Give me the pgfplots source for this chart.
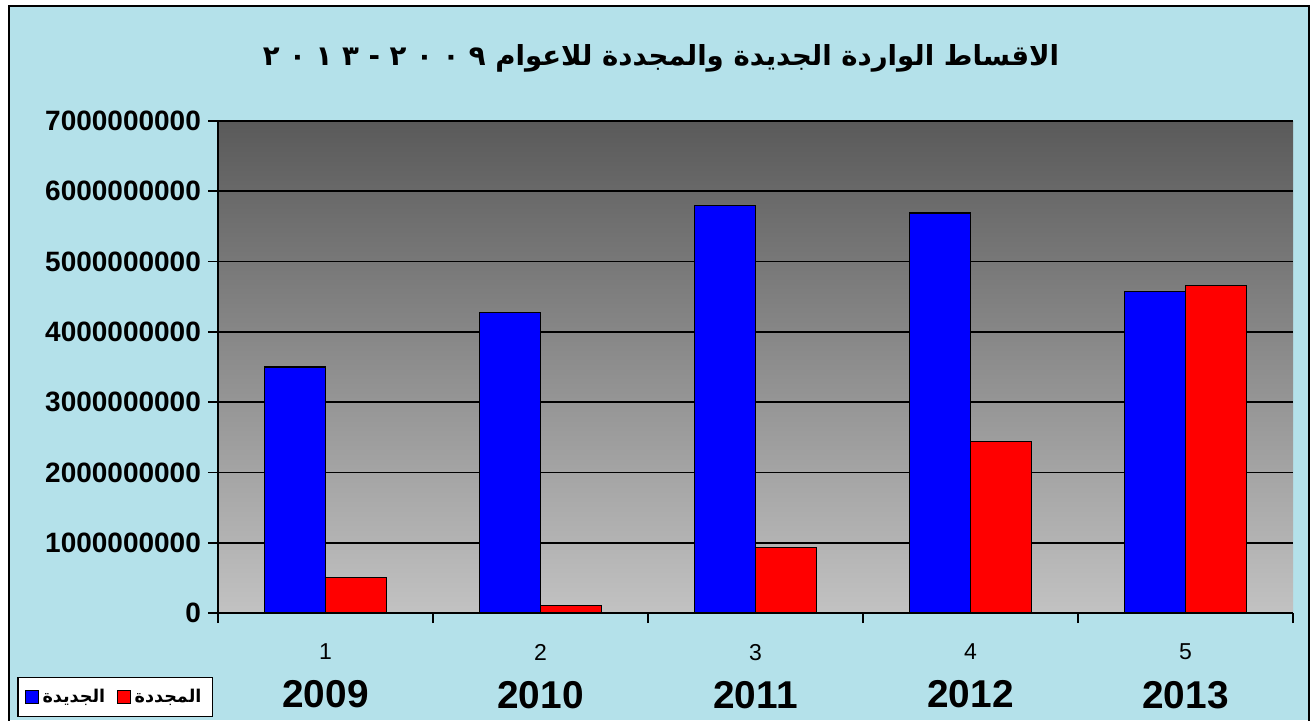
\documentclass[border=0pt]{standalone}
\usepackage{pgfplots}
\pgfplotsset{compat=1.18}
\usepackage{fontspec}
\setmainfont{Liberation Sans}
\newfontfamily\arabicfont[Script=Arabic]{DejaVu Sans}
\TeXXeTstate=1
\definecolor{bgblue}{RGB}{180,225,234}
\definecolor{topgray}{RGB}{90,90,90}
\definecolor{botgray}{RGB}{194,194,194}
\begin{document}
\begin{tikzpicture}
\begin{scope}[x=0.5pt,y=-0.5pt,yshift=360pt]
\useasboundingbox (0,0) rectangle (1316,720);
\fill[white] (0,0) rectangle (1316,720);
\fill[bgblue] (9,6) rectangle (1309,720);
\draw[black,line width=1.2pt] (9,722) -- (9,6) -- (1309,6) -- (1309,722);
\node[font=\arabicfont\bfseries\fontsize{13.8}{17}\selectfont] at (661,58) {\beginR الاقساط الواردة الجديدة والمجددة للاعوام \beginL٢ ٠ ٠ ٩\endL{} - \beginL٢ ٠ ١ ٣\endL{}\endR};
\end{scope}
\begin{axis}[
  at={(109pt,53.5pt)}, anchor=south west,
  scale only axis, width=537.5pt, height=246pt,
  xmin=0.5, xmax=5.5, ymin=0, ymax=7000000000,
  axis x line*=bottom, axis y line*=left,
  axis line style={black, line width=0.8pt},
  axis background/.style={top color=topgray, bottom color=botgray},
  ybar=0pt, bar width=30.5pt,
  xtick={1,2,3,4,5},
  xticklabels={
    {\fontsize{11.5}{14}\selectfont 1\\[9.5pt]\bfseries\fontsize{19.4}{22}\selectfont 2009},
    {\fontsize{11.5}{14}\selectfont 2\\[9.5pt]\bfseries\fontsize{19.4}{22}\selectfont 2010},
    {\fontsize{11.5}{14}\selectfont 3\\[9.5pt]\bfseries\fontsize{19.4}{22}\selectfont 2011},
    {\fontsize{11.5}{14}\selectfont 4\\[9.5pt]\bfseries\fontsize{19.4}{22}\selectfont 2012},
    {\fontsize{11.5}{14}\selectfont 5\\[9.5pt]\bfseries\fontsize{19.4}{22}\selectfont 2013}},
  xticklabel style={align=center, anchor=north, yshift=-7pt},
  major x tick style={draw=none},
  minor xtick={0.5,1.5,2.5,3.5,4.5,5.5},
  minor x tick style={black, line width=0.8pt},
  tick align=outside,
  minor tick length=5pt,
  major tick length=5pt,
  ytick={0,1000000000,2000000000,3000000000,4000000000,5000000000,6000000000,7000000000},
  yticklabels={0,1000000000,2000000000,3000000000,4000000000,5000000000,6000000000,7000000000},
  scaled y ticks=false,
  y tick style={black, line width=0.8pt},
  yticklabel style={font=\bfseries\fontsize{14}{16}\selectfont, anchor=east},
  ymajorgrids, grid style={black, line width=0.9pt},
  /pgf/number format/assume math mode=true,
  legend style={at={(-0.0956,-0.1707)}, anchor=center, draw=black, line width=0.6pt, fill=white,
    font=\arabicfont\bfseries\fontsize{8.8}{10}\selectfont, legend columns=2,
    /tikz/every even column/.append style={column sep=4pt}, inner sep=3.5pt},
  legend image code/.code={\draw[#1, draw=black, line width=0.5pt] (0cm,-0.11cm) rectangle (0.22cm,0.11cm);},
]
\addplot[fill=blue, draw=black, line width=0.6pt] coordinates {(1,3500000000) (2,4270000000) (3,5800000000) (4,5690000000) (5,4580000000)};
\addplot[fill=red, draw=black, line width=0.6pt] coordinates {(1,506000000) (2,106000000) (3,930000000) (4,2440000000) (5,4660000000)};
\legend{\beginR الجديدة\endR, \beginR المجددة\endR}
\end{axis}
\end{tikzpicture}
\end{document}
